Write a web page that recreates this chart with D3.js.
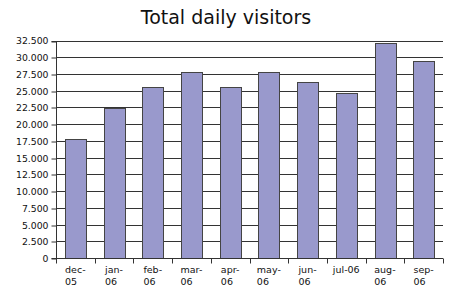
<!DOCTYPE html>
<html>
<head>
<meta charset="utf-8">
<script src="https://cdn.jsdelivr.net/npm/d3@7"></script>
<style>
  body { margin: 0; background: #fff; }
  svg { display: block; font-family: "DejaVu Sans", sans-serif; }
</style>
</head>
<body>
<div class="svg-container"></div>
<script>
// chart data
var months = ['dec-05', 'jan-06', 'feb-06', 'mar-06', 'apr-06', 'may-06', 'jun-06', 'jul-06', 'aug-06', 'sep-06'];
var visitors = [17850, 22450, 25500, 27800, 25600, 27800, 26350, 24600, 32100, 29400];
var yTicks = [0, 2500, 5000, 7500, 10000, 12500, 15000, 17500, 20000, 22500, 25000, 27500, 30000, 32500];
var labelLines = {'dec-05': ['dec-', '05'], 'jan-06': ['jan-', '06'], 'feb-06': ['feb-', '06'], 'mar-06': ['mar-', '06'],
  'apr-06': ['apr-', '06'], 'may-06': ['may-', '06'], 'jun-06': ['jun-', '06'], 'jul-06': ['jul-06'],
  'aug-06': ['aug-', '06'], 'sep-06': ['sep-', '06']};

var chart = {
  width: 450,
  height: 295,
  margin: {top: 40.5, right: 7, bottom: 37, left: 56},
  barFill: '#9999cc',
  lineColor: '#333',
  draw(){
    var m = chart.margin;
    var svg = d3.select('.svg-container').append('svg')
      .attr('width', chart.width)
      .attr('height', chart.height);

    var x = d3.scaleBand().domain(months)
      .range([m.left, chart.width - m.right])
      .paddingInner(0.46).paddingOuter(0.23);
    var y = d3.scaleLinear().domain([0, 32500])
      .range([chart.height - m.bottom, m.top]);
    var step = x.step();
    var x0 = m.left; // left edge of the first category

    // title
    svg.append('text')
      .attr('x', 226).attr('y', 24)
      .attr('text-anchor', 'middle')
      .style('font-size', '19px')
      .style('fill', '#111')
      .text('Total daily visitors');

    // horizontal grid lines
    svg.append('g').selectAll('line').data(yTicks.slice(1)).join('line')
      .attr('x1', m.left).attr('x2', chart.width - m.right)
      .attr('y1', d => Math.round(y(d)) + 0.5).attr('y2', d => Math.round(y(d)) + 0.5)
      .attr('stroke', chart.lineColor).attr('stroke-width', 1);

    // bars
    svg.append('g').selectAll('rect').data(visitors).join('rect')
      .attr('x', (d, i) => Math.round(x(months[i])) + 0.5)
      .attr('y', d => Math.round(y(d)) + 0.5)
      .attr('width', Math.round(x.bandwidth()))
      .attr('height', d => Math.round(y(0)) - Math.round(y(d)))
      .attr('fill', chart.barFill)
      .attr('stroke', '#444').attr('stroke-width', 1);

    // y axis
    var yAxis = d3.axisLeft(y).tickValues(yTicks).tickSize(5).tickPadding(3)
      .tickFormat(d => d3.format(',')(d).replace(/,/g, '.'));
    var gy = svg.append('g').attr('transform', 'translate(' + (m.left + 0.5) + ',0.5)').call(yAxis);
    gy.select('.domain').attr('d', 'M-5,' + Math.round(y(32500)) + 'H0V' + Math.round(y(0)) + 'H-5')
      .attr('stroke', chart.lineColor);
    gy.selectAll('.tick line').attr('stroke', chart.lineColor)
      .attr('transform', function(d){ return 'translate(0,' + (Math.round(y(d)) - y(d)) + ')'; });
    gy.selectAll('.tick text').style('font-size', '9.3px').style('fill', '#111').style('font-family', '"DejaVu Sans", sans-serif');

    // x axis line and ticks at category boundaries
    var base = Math.round(y(0)) + 0.5;
    svg.append('line')
      .attr('x1', m.left).attr('x2', chart.width - m.right)
      .attr('y1', base).attr('y2', base)
      .attr('stroke', chart.lineColor);
    svg.append('g').selectAll('line').data(d3.range(months.length + 1)).join('line')
      .attr('x1', i => Math.round(x0 + i * step) + 0.5).attr('x2', i => Math.round(x0 + i * step) + 0.5)
      .attr('y1', base).attr('y2', base + 5)
      .attr('stroke', chart.lineColor);

    // x labels, wrapped, block centred under each category
    var lbl = svg.append('g').style('font-size', '9.5px').style('fill', '#111');
    months.forEach(function(mo){
      var lines = labelLines[mo];
      var t = lbl.append('text').attr('y', 273);
      lines.forEach(function(s, k){
        t.append('tspan').attr('dy', k ? 12 : 0).text(s);
      });
      var w = 0;
      t.selectAll('tspan').each(function(){ w = Math.max(w, this.getComputedTextLength()); });
      var left = x(mo) + x.bandwidth() / 2 - w / 2;
      t.selectAll('tspan').attr('x', left);
    });
  }
};

document.addEventListener('DOMContentLoaded', function(){
  chart.draw();
});
</script>
</body>
</html>
